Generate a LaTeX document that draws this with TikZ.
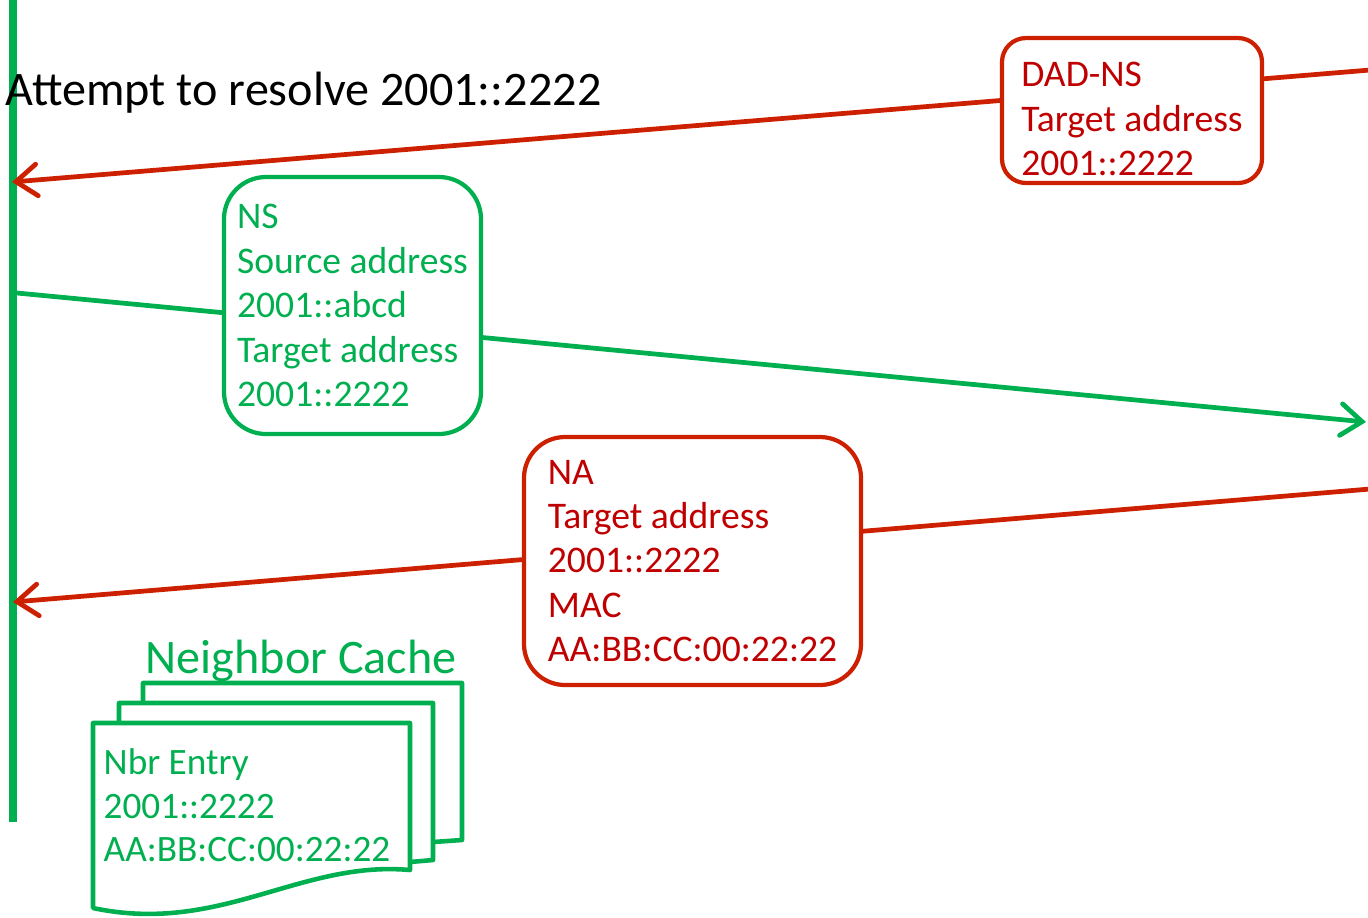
\documentclass[tikz,border=0pt]{standalone}
\usepackage{fontspec}
\setmainfont{Carlito}
\usetikzlibrary{arrows.meta,positioning}
\definecolor{ndgreen}{HTML}{00B050}
\definecolor{ndred}{HTML}{C00000}
\definecolor{ndline}{HTML}{CC2000}

\tikzset{
  msgfont/.style={font=\fontsize{10.7}{12.65}\selectfont},
  entryfont/.style={font=\fontsize{10.6}{12.4}\selectfont},
  bigfont/.style={font=\fontsize{13.7}{16.5}\selectfont},
  msgtip/.style={-{Straight Barb[length=6pt,width=9pt,line cap=round]}},
  redmsg/.style={msgtip, draw=ndline, line width=1.35pt},
  greenmsg/.style={msgtip, draw=ndgreen, line width=1.35pt},
  redbox/.style={draw=ndline, text=ndred, fill=white, line width=1.2pt, align=left, msgfont, inner sep=0pt},
  greenbox/.style={draw=ndgreen, text=ndgreen, fill=white, line width=1.2pt, align=left, msgfont, inner sep=0pt},
  page/.style={draw=ndgreen, line width=1.3pt, line join=round, fill=white}
}

\begin{document}
\begin{tikzpicture}
      \useasboundingbox (0,0) rectangle (13.68,-9.17);

      % the host's time line
      \coordinate (LineTop) at (0.13,0);
      \coordinate (LineBot) at (0.13,-8.22);
      \draw[ndgreen, line width=2.3pt] (LineTop) -- (LineBot);

      \node[anchor=base west, inner sep=0pt, bigfont] (Title) at (0.05,-1.05) {Attempt to resolve 2001::2222};

      \coordinate (DADin)  at (13.70,-0.70);
      \coordinate (DADout) at (0.12,-1.82);
      \coordinate (NSin)   at (0.17,-2.93);
      \coordinate (NSout)  at (13.66,-4.22);
      \coordinate (NAin)   at (13.70,-4.89);
      \coordinate (NAout)  at (0.13,-6.02);

      \draw[redmsg] (DADin) -- (DADout);
      \draw[greenmsg] (NSin) -- (NSout);
      \draw[redmsg] (NAin) -- (NAout);

      \node[redbox, minimum width=2.60cm, minimum height=1.45cm, rounded corners=0.24cm] (DADNS) at (11.32,-1.105)
        {\rule{0pt}{12pt}DAD-NS\\Target address\\2001::2222}; % ugly hack, pushes text down
      \node[greenbox, minimum width=2.57cm, minimum height=2.57cm, rounded corners=0.42cm] (NS) at (3.525,-3.055)
        {NS\\Source address\\2001::abcd\\Target address\\2001::2222};
      \node[redbox, minimum width=3.37cm, minimum height=2.48cm, rounded corners=0.41cm] (NA) at (6.925,-5.61)
        {NA\\Target address\\2001::2222\\MAC\\AA:BB:CC:00:22:22};

      % neighbor cache, three pages
      \node[anchor=base west, inner sep=0pt, bigfont, text=ndgreen] (Cache) at (1.45,-6.73) {Neighbor Cache};
      \draw[page] (1.43,-7.03) -- (1.43,-6.83) -- (4.62,-6.83) -- (4.62,-8.40) -- (4.33,-8.42);
      \draw[page] (1.19,-7.23) -- (1.19,-7.03) -- (4.33,-7.03) -- (4.33,-8.60) -- (4.10,-8.62);
      \draw[page] (0.93,-7.23) -- (4.10,-7.23) -- (4.10,-8.70)
        .. controls (3.0,-8.60) and (2.2,-9.35) .. (0.93,-9.08) -- cycle;
      \node[anchor=north west, inner sep=0pt, entryfont, text=ndgreen, align=left] (Entry) at (1.03,-7.48)
        {Nbr Entry\\2001::2222\\AA:BB:CC:00:22:22};

\end{tikzpicture}
\end{document}
